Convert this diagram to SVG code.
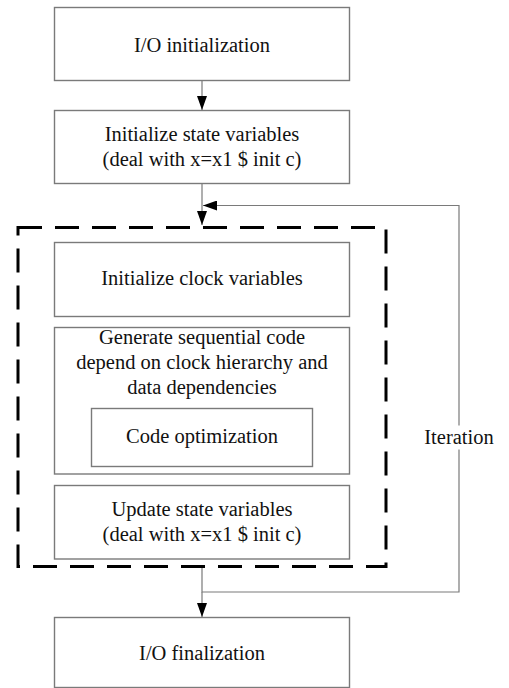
<svg xmlns="http://www.w3.org/2000/svg" width="509" height="688" viewBox="0 0 509 688">
<style>
.box{fill:#fff;stroke:#7a7a7a;stroke-width:1.4}
.t{font-family:'Liberation Serif',serif;font-size:20.5px;fill:#111;text-anchor:middle}
.ln{fill:none;stroke:#7a7a7a;stroke-width:1.2}
.dash{fill:none;stroke:#000;stroke-width:3;stroke-dasharray:24 13}
</style>
<defs>
<marker id="ah" viewBox="0 0 14 10" refX="14" refY="5" markerWidth="14" markerHeight="10" markerUnits="userSpaceOnUse" orient="auto">
<path d="M0,0 L14,5 L0,10 Z" fill="#000"/>
</marker>
</defs>
<rect width="509" height="688" fill="#fff"/>
<g id="connectors">
<line class="ln" x1="202" y1="81" x2="202" y2="110" marker-end="url(#ah)"/>
<line class="ln" x1="202" y1="184" x2="202" y2="225" marker-end="url(#ah)"/>
<polyline class="ln" points="202,567 202,592 459,592 459,205.5 203,205.5" marker-end="url(#ah)"/>
<line class="ln" x1="202" y1="592" x2="202" y2="617" marker-end="url(#ah)"/>
</g>
<g id="loop">
<rect class="dash" x="18" y="227.5" width="368" height="339"/>
</g>
<g id="io-init">
<rect class="box" x="54.5" y="7.5" width="295" height="73"/>
<text class="t" x="202" y="52" font-family="Liberation Serif">I/O initialization</text>
</g>
<g id="init-state">
<rect class="box" x="54.5" y="110.5" width="295" height="73"/>
<text class="t" x="202" y="140.5">Initialize state variables</text>
<text class="t" x="202" y="166">(deal with x=x1 $ init c)</text>
</g>
<g id="init-clock">
<rect class="box" x="54.5" y="242.5" width="295" height="74"/>
<text class="t" x="202" y="285">Initialize clock variables</text>
</g>
<g id="gen-code">
<rect class="box" x="54.5" y="327.5" width="295" height="146.5"/>
<text class="t" x="202" y="344">Generate sequential code</text>
<text class="t" x="202" y="368.5">depend on clock hierarchy and</text>
<text class="t" x="202" y="393.5">data dependencies</text>
</g>
<g id="code-opt">
<rect class="box" x="91.5" y="408.5" width="221" height="58"/>
<text class="t" x="202" y="442.5">Code optimization</text>
</g>
<g id="update-state">
<rect class="box" x="54.5" y="485.5" width="295" height="73.5"/>
<text class="t" x="202" y="515.5">Update state variables</text>
<text class="t" x="202" y="540.5">(deal with x=x1 $ init c)</text>
</g>
<g id="io-final">
<rect class="box" x="54.5" y="617.5" width="295" height="70"/>
<text class="t" x="202" y="660">I/O finalization</text>
</g>
<g id="iteration-label">
<rect x="423" y="425.5" width="72" height="24" fill="#fff"/>
<text class="t" x="459" y="444">Iteration</text>
</g>
</svg>
